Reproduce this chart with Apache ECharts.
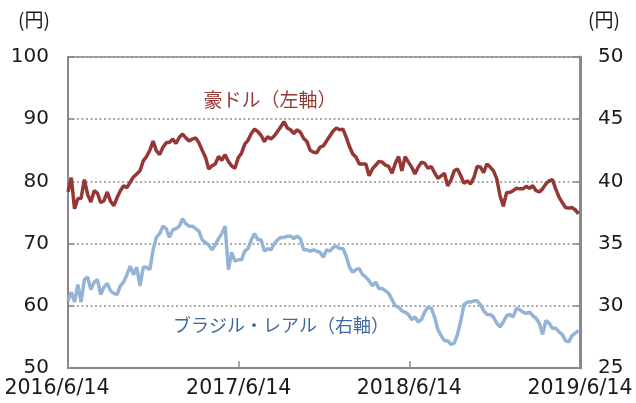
<!DOCTYPE html>
<html><head><meta charset="utf-8">
<script src="https://cdn.jsdelivr.net/npm/echarts@6/dist/echarts.min.js"></script>
<style>html,body{margin:0;padding:0;background:#fff}#c{width:636px;height:403px}</style>
</head><body><div id="c"></div>
<script>
// Weekly observations starting 2016/6/14 (day offset = 7 * index)
const audJpy = [
78.3,80.6,75.6,77.2,77.3,80.3,77.9,76.7,78.5,78.1,
76.6,76.9,78.3,76.8,76.1,77.4,78.5,79.3,79.0,79.9,
80.7,81.2,81.7,83.3,84.0,85.0,86.5,84.9,84.3,85.5,
86.2,86.3,86.8,86.1,87.1,87.6,87.0,86.5,86.8,87.0,
86.2,85.0,83.9,82.0,82.5,82.8,84.0,83.4,84.3,83.2,
82.5,82.1,83.8,84.5,86.0,86.6,87.7,88.4,88.0,87.4,
86.4,87.2,86.8,87.3,88.0,88.8,89.6,88.6,88.3,87.7,
88.3,87.9,86.9,86.4,85.0,84.7,84.6,85.5,85.7,86.5,
87.3,88.1,88.6,88.3,88.4,87.1,85.6,84.4,83.9,82.8,
82.8,82.8,80.9,82.0,82.6,83.2,83.1,82.6,82.4,81.3,
82.9,84.0,81.7,84.0,83.1,82.3,81.2,82.3,83.1,82.9,
82.1,82.4,81.4,80.5,80.9,81.3,79.3,80.2,81.7,82.0,
80.9,79.7,80.1,79.6,80.6,82.4,82.3,81.4,82.8,82.3,
81.7,80.4,77.7,76.0,78.2,78.2,78.5,78.9,78.8,78.8,
79.2,78.9,79.3,78.5,78.3,78.8,79.6,80.1,80.3,78.8,
77.5,76.6,75.8,75.7,75.8,75.4,74.8];
const brlJpy = [
30.4,31.1,30.3,31.7,30.3,32.1,32.3,31.3,31.9,32.1,
30.9,31.5,31.8,31.2,31.0,30.9,31.6,31.9,32.5,33.2,
32.5,33.1,31.6,33.1,33.1,32.9,34.5,35.5,35.8,36.4,
36.2,35.5,36.1,36.2,36.4,37.0,36.6,36.4,36.4,36.2,
36.0,35.3,35.1,34.9,34.5,34.9,35.4,35.8,36.4,32.9,
34.3,33.6,33.7,33.7,34.4,34.6,35.3,35.8,35.3,35.3,
34.4,34.6,34.5,35.0,35.3,35.5,35.5,35.6,35.6,35.4,
35.6,35.4,34.5,34.5,34.4,34.5,34.4,34.3,33.9,34.5,
34.4,34.7,34.8,34.6,34.6,34.0,33.1,32.7,32.9,33.0,
32.5,32.3,32.0,31.6,31.9,31.4,31.4,31.2,31.0,30.5,
30.0,29.9,29.6,29.5,29.3,28.9,29.1,28.7,28.9,29.5,
29.9,29.8,29.1,28.1,27.6,27.2,27.2,26.9,27.0,27.7,
28.8,30.1,30.3,30.3,30.4,30.4,30.1,29.6,29.3,29.3,
29.1,28.6,28.3,28.7,29.2,29.3,29.1,29.8,29.7,29.5,
29.4,29.5,29.2,29.0,28.6,27.7,28.8,28.6,28.2,28.2,
27.9,27.7,27.2,27.1,27.6,27.8,28.0];
const xTickLabels = ['2016/6/14','2017/6/14','2018/6/14','2019/6/14'];
const leftTicks = [50,60,70,80,90,100];
const rightTicks = [25,30,35,40,45,50];
const audLabel = '豪ドル（左軸）';
const brlLabel = 'ブラジル・レアル（右軸）';
const unitLabel = '(円)';

const dayStep = 7;
const audData = audJpy.map((v,i)=>[i*dayStep, v]);
const brlData = brlJpy.map((v,i)=>[i*dayStep, v]);

const FONT = 'Noto Sans CJK JP';
const NUMFONT = 'DejaVu Sans';
const axisGray = '#898989';
const chart = echarts.init(document.getElementById('c'), null, {renderer:'canvas'});
chart.setOption({
  animation:false,
  textStyle:{fontFamily:FONT},
  grid:{left:68, right:56, top:57, bottom:35, show:true, borderColor:axisGray, borderWidth:1.5, backgroundColor:'transparent'},
  xAxis:{type:'value', min:0, max:1095, interval:365,
    axisLine:{show:true, onZero:false, lineStyle:{color:axisGray, width:2}},
    axisTick:{show:true, inside:true, length:7, lineStyle:{color:axisGray, width:1.5}},
    axisLabel:{fontSize:20.5, color:'#1a1a1a', margin:10, fontFamily:NUMFONT, showMinLabel:true, showMaxLabel:true,
      formatter:v=>{const i=Math.round(v/365); return i===0 ? '{first|'+xTickLabels[i]+'}' : xTickLabels[i];},
      rich:{first:{fontSize:20.5, fontFamily:NUMFONT, color:'#1a1a1a', padding:[0,22,0,0]}}},
    splitLine:{show:false}},
  yAxis:[
    {type:'value', min:leftTicks[0], max:leftTicks[leftTicks.length-1], interval:10, position:'left',
      axisLine:{show:true, lineStyle:{color:axisGray, width:2}},
      axisTick:{show:true, inside:true, length:6, lineStyle:{color:axisGray, width:1.5}},
      axisLabel:{fontSize:20, color:'#1a1a1a', margin:19, fontFamily:NUMFONT},
      splitLine:{show:true, lineStyle:{color:'#8f8f8f', width:1.5, type:[2,2.5]}}},
    {type:'value', min:rightTicks[0], max:rightTicks[rightTicks.length-1], interval:5, position:'right',
      axisLine:{show:true, lineStyle:{color:axisGray, width:3}},
      axisTick:{show:true, inside:true, length:6, lineStyle:{color:axisGray, width:1.5}},
      axisLabel:{fontSize:20, color:'#1a1a1a', margin:18, fontFamily:NUMFONT},
      splitLine:{show:false}}
  ],
  series:[
    {name:'BRL', type:'line', yAxisIndex:1, data:brlData, showSymbol:false, symbol:'none',
      lineStyle:{color:'#95b3d7', width:3.5}},
    {name:'AUD', type:'line', yAxisIndex:0, data:audData, showSymbol:false, symbol:'none',
      lineStyle:{color:'#953735', width:3.5}}
  ],
  graphic:[
    {type:'text', left:18, top:10, style:{text:unitLabel, font:'19px "'+FONT+'"', fill:'#1a1a1a'}},
    {type:'text', left:588, top:10, style:{text:unitLabel, font:'19px "'+FONT+'"', fill:'#1a1a1a'}},
    {type:'text', x:270, y:100, style:{text:audLabel, font:'19px "'+FONT+'"', fill:'#953735', align:'center', verticalAlign:'middle'}},
    {type:'text', x:281, y:325, style:{text:brlLabel, font:'18px "'+FONT+'"', fill:'#41699f', align:'center', verticalAlign:'middle'}}
  ]
});
</script></body></html>
